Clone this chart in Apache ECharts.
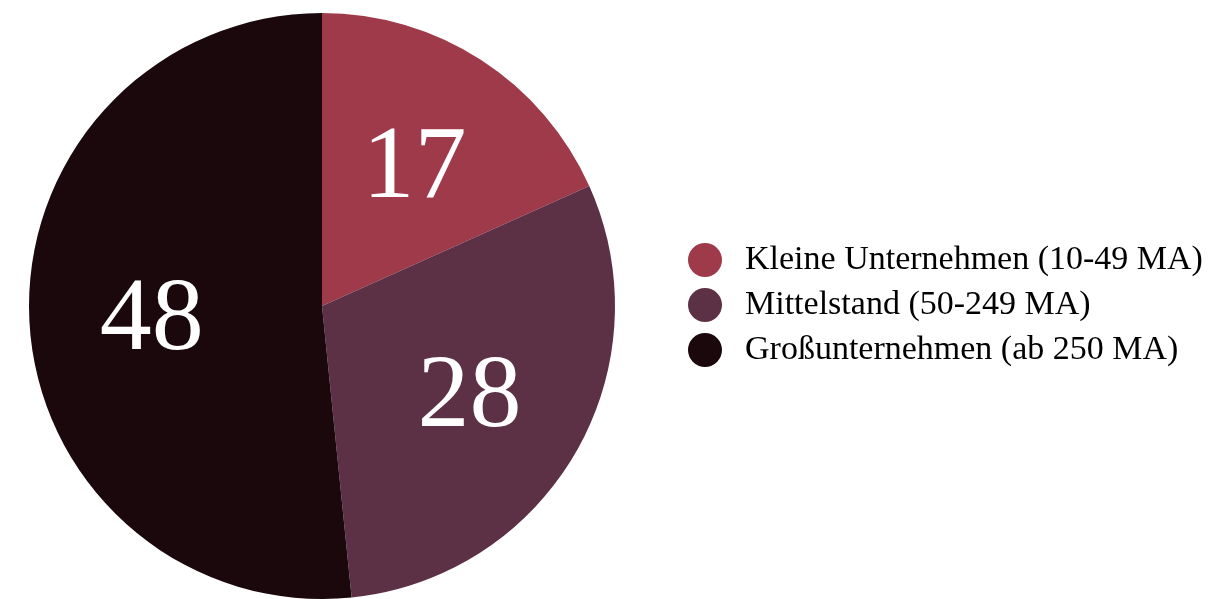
<!DOCTYPE html>
<html lang="de">
<head>
	<meta charset="UTF-8">
	<title>Unternehmensgröße</title>
	<script type="text/javascript" src="https://cdn.jsdelivr.net/npm/echarts@6/dist/echarts.min.js"></script>
	<style>
		html, body { margin: 0; padding: 0; background: #fff; }
		#main { width: 1229px; height: 599px; }
	</style>
</head>
<body>
	<div id="main"></div>
	<script type="text/javascript">
	// Daten
	var categories = ['Kleine Unternehmen (10-49 MA)', 'Mittelstand (50-249 MA)', 'Großunternehmen (ab 250 MA)'];
	var values = [17, 28, 48];
	var colors = ['#9f3a4b', '#5c3045', '#1a080c'];

	var cx = 322, cy = 306;
	var myChart = echarts.init(document.getElementById('main'));

	var data = [];
	for (var i = 0; i < categories.length; i++) {
		data.push({ name: categories[i], value: values[i], itemStyle: { color: colors[i] } });
	}

	var option = {
		animation: false,
		textStyle: { fontFamily: 'Liberation Serif' },
		legend: {
			orient: 'vertical',
			left: 683,
			top: 238,
			icon: 'circle',
			itemWidth: 34,
			itemHeight: 34,
			itemGap: 11,
			textStyle: {
				fontFamily: 'Liberation Serif',
				fontSize: 34,
				color: '#000',
				padding: [0, 0, 0, 18]
			},
			data: categories
		},
		series: [{
			type: 'pie',
			center: [cx, cy],
			radius: [0, 293],
			startAngle: 90,
			clockwise: true,
			label: {
				show: true,
				position: 'inside',
				formatter: '{c}',
				color: '#fff',
				fontFamily: 'Liberation Serif',
				fontSize: 104
			},
			// Zahlen etwas weiter nach außen schieben
			labelLayout: function (p) {
				var r = p.labelRect;
				var lx = r.x + r.width / 2, ly = r.y + r.height / 2;
				return { x: cx + (lx - cx) * 1.14, y: cy + (ly - cy) * 1.14 + 7 };
			},
			labelLine: { show: false },
			itemStyle: { borderWidth: 0 },
			emphasis: { disabled: true },
			data: data
		}]
	};

	myChart.setOption(option);
	</script>
</body>
</html>
